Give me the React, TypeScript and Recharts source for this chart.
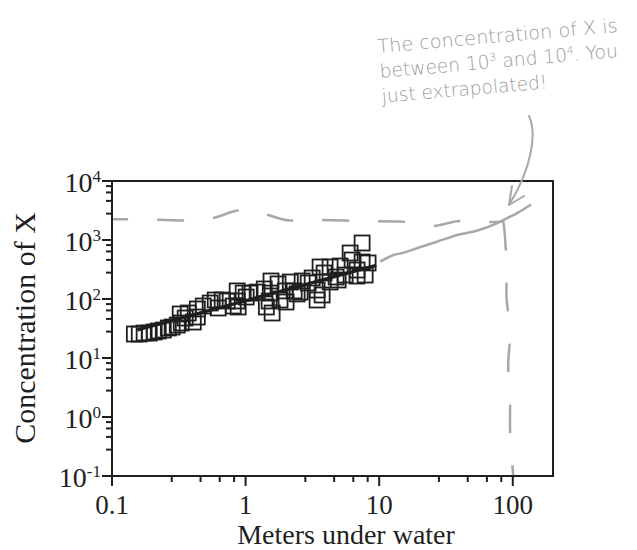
import { ComposedChart, Scatter, Line, XAxis, YAxis, ReferenceArea } from 'recharts'

const INK = '#1f1f1f'
const PENCIL = '#a8a8a8'
const SERIF = '"Liberation Serif", "Times New Roman", serif'
const HAND = '"DejaVu Sans", sans-serif'

// measured samples: depth (m) and concentration of X
const depths = [
  0.147, 0.160, 0.174, 0.190, 0.207, 0.222, 0.242, 0.264, 0.282, 0.308, 0.330, 0.324, 0.353, 0.372, 0.406, 0.435, 0.435,
  0.482, 0.543, 0.592, 0.624, 0.668, 0.728, 0.808, 0.865, 0.865, 0.880, 0.959, 1.01,
  1.08, 1.22, 1.38, 1.43, 1.50, 1.53, 1.55, 1.58, 1.75, 1.81, 1.98, 2.01, 2.16, 2.31, 2.43, 2.56, 2.65,
  2.94, 3.15, 3.43, 3.43, 3.61, 3.74, 3.87, 4.29, 4.29, 4.76, 4.93, 5.10, 5.56, 6.06, 6.27, 6.83, 6.83, 7.45, 7.45, 7.85, 8.26,
]
const concentrations = [
  25.5, 25.5, 26.5, 26.5, 27.6, 28.7, 29.8, 32.3, 33.5, 36.2, 39.2, 55.7, 47.6, 57.9, 40.7, 67.7, 49.5,
  76.1, 85.5, 96.2, 70.4, 96.2, 92.5, 76.1, 137, 92.5, 73.2, 126, 108,
  126, 131, 148, 73.2, 92.5, 126, 202, 57.9, 180, 96.2, 137, 89.0, 194, 137, 122, 131, 202,
  187, 227, 142, 96.2, 349, 117, 276, 349, 194, 236, 210, 362, 255, 602, 458, 310, 245, 890, 424, 255, 408,
]

// least squares fit over the sampled range
const fitDepth = [0.155, 9.5]
const fitConc = [30, 372]

// hand-drawn continuation past the data
const extrapDepth = [10.2, 12.8, 15.2, 19.1, 27.0, 40.3, 53.7, 75.8, 90.0, 107, 137]
const extrapConc = [429, 557, 609, 723, 936, 1249, 1438, 1919, 2332, 2835, 4000]

// dashed guides
const guideHDepth = [0.102, 0.193, 0.353, 0.572, 0.836, 1.08, 1.476, 2.16, 3.61, 7.2, 14.3, 25.3, 40.3, 67.5, 85.9]
const guideHConc = [2243, 2220, 2140, 2360, 3101, 3289, 2653, 2140, 2183, 2099, 2060, 1727, 2099, 2020, 2060]
const guideVDepth = [85.0, 87.4, 90.0, 90.0, 95.3, 92.5, 95.3, 95.3, 98.1, 100.9]
const guideVConc = [2043, 1138, 273, 96.2, 26.2, 8.13, 2.21, 0.732, 0.212, 0.1]

const xMajor = [0.1, 1, 10, 100]
const xMajorLabels = ['0.1', '1', '10', '100']
const xMinor = [0.28, 0.46, 0.64, 0.82, 2.8, 4.6, 6.4, 8.2, 28, 46, 64, 82]
const yMajor = [0.1, 1, 10, 100, 1000, 10000]
const yExponents = ['-1', '0', '1', '2', '3', '4']
const yMinor = [
  0.28, 0.46, 0.64, 0.82, 2.8, 4.6, 6.4, 8.2, 28, 46, 64, 82,
  280, 460, 640, 820, 2800, 4600, 6400, 8200,
]

const zip = (xs: number[], ys: number[]) => xs.map((x, i) => ({ x, y: ys[i] }))

const samples = zip(depths, concentrations)
const fit = zip(fitDepth, fitConc)
const extrap = zip(extrapDepth, extrapConc)
const guideH = zip(guideHDepth, guideHConc)
const guideV = zip(guideVDepth, guideVConc)

function XTick({ x, y, payload }: any) {
  const i = xMajor.indexOf(payload.value)
  const major = i >= 0
  return (
    <g>
      <line x1={x} x2={x} y1={y} y2={y + (major ? 10 : 6)} stroke={INK} strokeWidth={2} />
      {major && (
        <text x={x} y={y + 38} textAnchor="middle" fontSize={27} fill={INK} fontFamily={SERIF}>
          {xMajorLabels[i]}
        </text>
      )}
    </g>
  )
}

function YTick({ x, y, payload }: any) {
  const i = yMajor.indexOf(payload.value)
  const major = i >= 0
  return (
    <g>
      <line x1={x - (major ? 10 : 6)} x2={x} y1={y} y2={y} stroke={INK} strokeWidth={2} />
      {major && (
        <text x={x - 11} y={y + 11} textAnchor="end" fontSize={28} fill={INK} fontFamily={SERIF}>
          10<tspan dy={-10} fontSize={17}>{yExponents[i]}</tspan>
        </text>
      )}
    </g>
  )
}

function Square({ cx, cy }: any) {
  return <rect x={cx - 7.5} y={cy - 7.5} width={15} height={15} fill="none" stroke={INK} strokeWidth={1.8} />
}

export default function App() {
  return (
    <div style={{ position: 'absolute', left: 0, top: 0, width: 637, height: 550, background: '#fff' }}>
      <ComposedChart width={637} height={550} margin={{ top: 181, right: 84, bottom: 0, left: 0 }}>
        <XAxis
          type="number" dataKey="x" scale="log" domain={[0.1, 200]} allowDataOverflow
          ticks={[...xMajor, ...xMinor]} interval={0} tickSize={0} tickMargin={0}
          tick={(p: any) => <XTick {...p} />} tickLine={false}
          axisLine={{ stroke: INK, strokeWidth: 2 }} height={74}
        />
        <YAxis
          type="number" dataKey="y" scale="log" domain={[0.1, 10000]} allowDataOverflow
          ticks={[...yMajor, ...yMinor]} interval={0} tickSize={0} tickMargin={0}
          tick={(p: any) => <YTick {...p} />} tickLine={false}
          axisLine={{ stroke: INK, strokeWidth: 2 }} width={112}
        />
        <ReferenceArea x1={0.1} x2={200} y1={0.1} y2={10000} fill="none" stroke={INK} strokeWidth={2} />
        <Line
          data={guideH} dataKey="y" type="monotone" stroke={PENCIL} strokeWidth={2.5}
          strokeDasharray="27 29" strokeDashoffset={12} dot={false} isAnimationActive={false}
        />
        <Line
          data={guideV} dataKey="y" type="natural" stroke={PENCIL} strokeWidth={2.5}
          strokeDasharray="29 32" dot={false} isAnimationActive={false}
        />
        <Line
          data={extrap} dataKey="y" type="monotone" stroke={PENCIL} strokeWidth={2.5}
          dot={false} isAnimationActive={false}
        />
        <Scatter data={samples} shape={(p: any) => <Square {...p} />} isAnimationActive={false} />
        <Line
          data={fit} dataKey="y" type="linear" stroke={INK} strokeWidth={3.2}
          dot={false} isAnimationActive={false}
        />
      </ComposedChart>

      <svg width={637} height={550} style={{ position: 'absolute', left: 0, top: 0, pointerEvents: 'none' }}>
        <text transform="translate(35,328) rotate(-90)" textAnchor="middle" fontFamily={SERIF} fontSize={30} fill={INK}>
          Concentration of X
        </text>
        <text x={346} y={544} textAnchor="middle" fontFamily={SERIF} fontSize={28} fill={INK}>
          Meters under water
        </text>
        <g transform="rotate(-5 378 53)" fill="#9c9c9c" fontFamily={HAND} fontSize={19} fontWeight={200}>
          <text x={378} y={53} textLength={241} lengthAdjust="spacingAndGlyphs">The concentration of X is</text>
          <text x={378} y={78} textLength={239} lengthAdjust="spacingAndGlyphs">
            between 10<tspan dy={-7} fontSize={11}>3</tspan>
            <tspan dy={7}> and 10</tspan>
            <tspan dy={-7} fontSize={11}>4</tspan>
            <tspan dy={7}>. You</tspan>
          </text>
          <text x={378} y={103} textLength={166} lengthAdjust="spacingAndGlyphs">just extrapolated!</text>
        </g>
        <path d="M529 116 C537 133, 532 168, 509 205" fill="none" stroke={PENCIL} strokeWidth={2} strokeLinecap="round" />
        <path d="M512 186 L509 205 L524 196" fill="none" stroke={PENCIL} strokeWidth={2} strokeLinecap="round" strokeLinejoin="round" />
      </svg>
    </div>
  )
}
